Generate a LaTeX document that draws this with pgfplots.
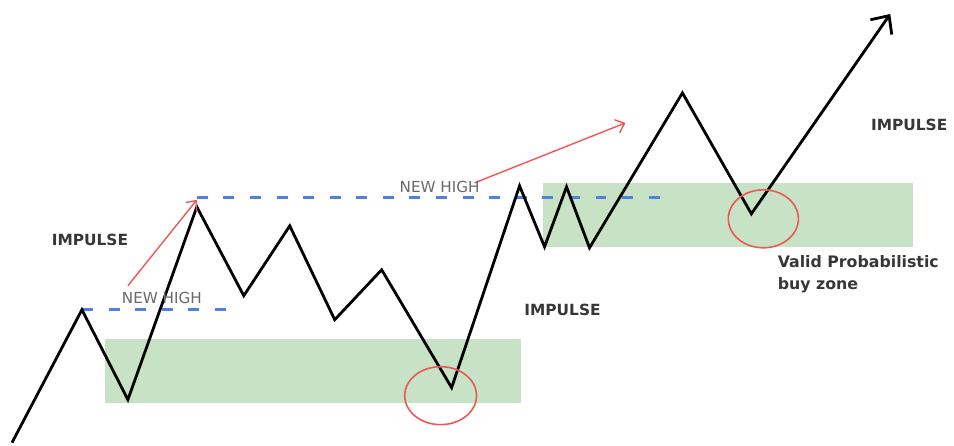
\documentclass[border=0pt]{standalone}
\usepackage{fontspec}
\setmainfont{DejaVu Sans}
\usepackage{pgfplots}
\pgfplotsset{compat=1.18}
\usetikzlibrary{arrows.meta}
\definecolor{zone}{RGB}{199,226,196}
\definecolor{highblue}{RGB}{80,128,225}
\definecolor{redline}{RGB}{236,88,88}
\definecolor{txt}{RGB}{55,55,55}
\definecolor{newhigh}{RGB}{105,105,105}

% pixel-like coordinates: x to the right, y up (446 - image row)
\pgfplotstableread{
x y
12 3
82 136
128 46
197 239
244 150
290 220
335 126
382 176
452 58
520 260
545 199
567 259
590 198
683 353
752 232
891 432
}\price

\begin{document}
\begin{tikzpicture}
\begin{axis}[
    hide axis,
    scale only axis,
    width=477pt, height=223pt,
    xmin=0, xmax=954, ymin=0, ymax=446,
    clip=false,
    font=\fontsize{7.6}{9}\selectfont,
]
% frame of the picture
\addplot[draw=none] coordinates {(0,0) (954,446)};

% demand zones
\addplot[fill=zone, draw=none] coordinates {(105,43) (521,43) (521,107) (105,107)} --cycle;
\addplot[fill=zone, draw=none] coordinates {(543,199) (914,199) (914,263) (543,263)} --cycle;

% previous highs
\addplot[highblue, line width=1.6pt, dash pattern=on 5.5pt off 7.8pt] coordinates {(82,136) (230,136)};
\addplot[highblue, line width=1.6pt, dash pattern=on 5.5pt off 7.8pt] coordinates {(197,248) (668,248)};

% price path
\addplot[black, line width=1.4pt, -{Straight Barb[length=7pt,width=13pt,line width=1.4pt]}] table {\price};

% new high arrows
\addplot[redline, line width=0.7pt, -{Straight Barb[length=4pt,width=7pt]}] coordinates {(128,160) (197,246)};
\addplot[redline, line width=0.7pt, -{Straight Barb[length=4pt,width=7pt]}] coordinates {(475,263) (626,323)};

% circled lows
\addplot[only marks, mark=o, mark size=14.5pt, mark options={redline, line width=0.8pt, xscale=1.24}] coordinates {(441,50)};
\addplot[only marks, mark=o, mark size=14.5pt, mark options={redline, line width=0.8pt, xscale=1.21}] coordinates {(764,227)};

% labels
\node[txt, font=\fontsize{7.7}{9}\selectfont\bfseries] at (axis cs:90,206) {IMPULSE};
\node[txt, font=\fontsize{7.7}{9}\selectfont\bfseries] at (axis cs:563,136) {IMPULSE};
\node[txt, font=\fontsize{7.7}{9}\selectfont\bfseries] at (axis cs:910,321) {IMPULSE};
\node[newhigh] at (axis cs:162,148) {NEW HIGH};
\node[newhigh] at (axis cs:440,259) {NEW HIGH};
\node[txt, font=\fontsize{7.9}{11}\selectfont\bfseries, align=left, anchor=north west, inner sep=0pt] at (axis cs:778,191) {Valid Probabilistic\\buy zone};
\end{axis}
\end{tikzpicture}
\end{document}
